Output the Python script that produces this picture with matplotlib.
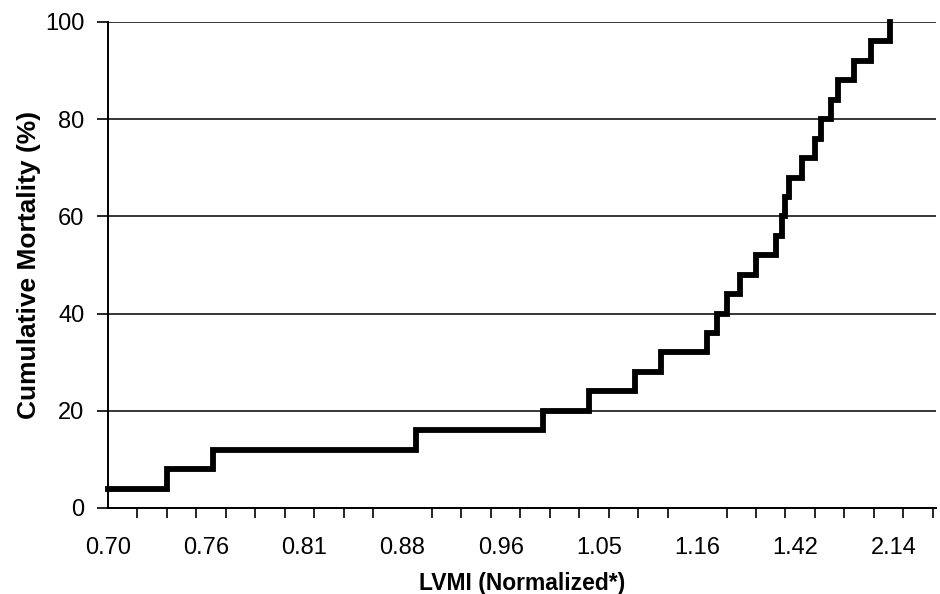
import matplotlib
matplotlib.use("Agg")
import matplotlib.pyplot as plt
from matplotlib.ticker import MultipleLocator, FixedLocator

# patient rank (sorted by LVMI) at which each death occurs, and the cumulative mortality reached
death_rank = [0, 18, 32, 94, 133, 147, 161, 169, 183, 186, 189, 193, 198,
              204, 206, 207, 208, 212, 216, 218, 221, 223, 228, 233, 239]
mortality = [4, 8, 12, 16, 20, 24, 28, 32, 36, 40, 44, 48, 52,
             56, 60, 64, 68, 72, 76, 80, 84, 88, 92, 96, 100]

label_rank = [0, 30, 60, 90, 120, 150, 180, 210, 240]
lvmi_labels = ["0.70", "0.76", "0.81", "0.88", "0.96", "1.05", "1.16", "1.42", "2.14"]
n_ranks = 253

plt.rcParams["font.family"] = ["Liberation Sans", "DejaVu Sans"]

fig = plt.figure(figsize=(9.4, 5.94), dpi=100)
ax = fig.add_axes([0.1149, 0.1448, 0.8808, 0.8182])

ax.step(death_rank, mortality, where="post", color="black", lw=4.2,
        solid_joinstyle="miter", clip_on=False, zorder=3)

ax.set_xlim(0, n_ranks)
ax.set_ylim(0, 100)

ax.xaxis.set_major_locator(FixedLocator(label_rank))
ax.set_xticklabels(lvmi_labels)
ax.xaxis.set_minor_locator(MultipleLocator(9))
ax.tick_params(axis="x", which="major", length=0, pad=21, labelsize=17)
ax.tick_params(axis="x", which="minor", length=7, width=1.2, direction="out")

ax.set_yticks([0, 20, 40, 60, 80, 100])
ax.tick_params(axis="y", length=8, width=1.2, direction="out", pad=9, labelsize=17)
ax.yaxis.grid(True, color="black", lw=1.1)

for side in ("top", "right"):
    ax.spines[side].set_visible(False)
for side in ("left", "bottom"):
    ax.spines[side].set_linewidth(1.4)

ax.set_xlabel("LVMI (Normalized*)", fontsize=16.5, fontweight="bold", labelpad=9)
ax.set_ylabel("Cumulative Mortality (%)", fontsize=19, fontweight="bold", labelpad=3)

fig.savefig("out.png", dpi=100)
